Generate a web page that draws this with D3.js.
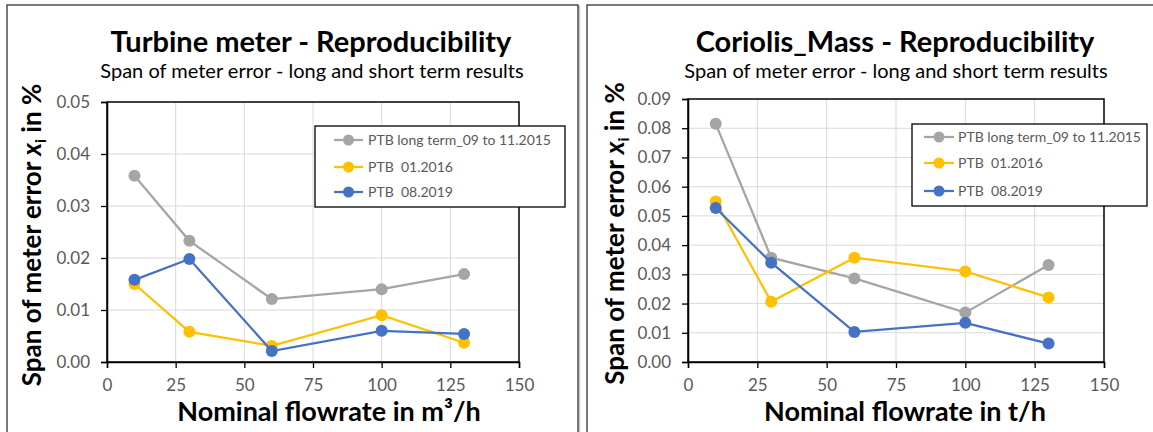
<!DOCTYPE html>
<html>
<head>
<meta charset="utf-8">
<script src="https://cdn.jsdelivr.net/npm/d3@7"></script>
<style>
  html, body { margin: 0; padding: 0; background: #fff; }
  svg { display: block; font-family: Lato, "Open Sans", sans-serif; }
</style>
</head>
<body>
<svg id="chart" width="1153" height="432"></svg>
<script>
// Nominal flowrates (shared x positions)
const flowrates = [10, 30, 60, 100, 130];

const seriesNames = ["PTB long term_09 to 11.2015", "PTB  01.2016", "PTB  08.2019"];
const seriesColors = ["#A5A5A5", "#FFC000", "#4472C4"];

// Turbine meter: span of meter error in %
const turbineLongTerm = [0.0358, 0.0233, 0.0121, 0.0140, 0.0169];
const turbine2016     = [0.0150, 0.0058, 0.0031, 0.0090, 0.0037];
const turbine2019     = [0.0158, 0.0198, 0.0021, 0.0060, 0.0054];

// Coriolis mass meter: span of meter error in %
const coriolisLongTerm = [0.0815, 0.0357, 0.0286, 0.0169, 0.0332];
const coriolis2016     = [0.0549, 0.0206, 0.0357, 0.0310, 0.0221];
const coriolis2019     = [0.0527, 0.0340, 0.0103, 0.0134, 0.0063];

const xTicks = [0, 25, 50, 75, 100, 125, 150];
const turbineYTicks = [0, 0.01, 0.02, 0.03, 0.04, 0.05];
const coriolisYTicks = [0, 0.01, 0.02, 0.03, 0.04, 0.05, 0.06, 0.07, 0.08, 0.09];

const panels = [
  {
    title: "Turbine meter - Reproducibility",
    subtitle: "Span of meter error - long and short term results",
    xTitle: "Nominal flowrate in m³/h",
    series: [turbineLongTerm, turbine2016, turbine2019],
    yMax: 0.05, yTicks: turbineYTicks,
    box: { x: 7, y: 5, w: 571, h: 460 },
    plot: { left: 107, right: 519, top: 102, bottom: 362 },
    legend: { x: 315, y: 126, w: 250, h: 81, lineX0: 19, lineX1: 48, textX: 53, rows: [14, 41, 66] },
    titleX: 311, xTitleX: 329, yTitleX: 41
  },
  {
    title: "Coriolis_Mass - Reproducibility",
    subtitle: "Span of meter error - long and short term results",
    xTitle: "Nominal flowrate in t/h",
    series: [coriolisLongTerm, coriolis2016, coriolis2019],
    yMax: 0.09, yTicks: coriolisYTicks,
    box: { x: 587, y: 5, w: 600, h: 460 },
    plot: { left: 688, right: 1104, top: 99, bottom: 362 },
    legend: { x: 912, y: 124, w: 235, h: 82, lineX0: 12, lineX1: 42, textX: 46, rows: [13, 39, 67] },
    titleX: 895, xTitleX: 905, yTitleX: 624
  }
];

const svg = d3.select("#chart");

panels.forEach(p => {
  const g = svg.append("g");

  // outer chart frame with a soft shadow edge
  g.append("rect")
    .attr("x", p.box.x + 1.5).attr("y", p.box.y + 1.5)
    .attr("width", p.box.w).attr("height", p.box.h)
    .attr("fill", "none").attr("stroke", "#c8c8c8").attr("stroke-width", 1.5);
  g.append("rect")
    .attr("x", p.box.x).attr("y", p.box.y)
    .attr("width", p.box.w).attr("height", p.box.h)
    .attr("fill", "#fff").attr("stroke", "#222").attr("stroke-width", 1.2);

  const x = d3.scaleLinear().domain([0, 150]).range([p.plot.left, p.plot.right]);
  const y = d3.scaleLinear().domain([0, p.yMax]).range([p.plot.bottom, p.plot.top]);

  // gridlines
  g.append("g").selectAll("line").data(xTicks.slice(1, -1)).join("line")
    .attr("x1", d => x(d)).attr("x2", d => x(d))
    .attr("y1", p.plot.top).attr("y2", p.plot.bottom)
    .attr("stroke", "#d9d9d9").attr("stroke-width", 1);
  g.append("g").selectAll("line").data(p.yTicks.slice(1, -1)).join("line")
    .attr("x1", p.plot.left).attr("x2", p.plot.right)
    .attr("y1", d => y(d)).attr("y2", d => y(d))
    .attr("stroke", "#d9d9d9").attr("stroke-width", 1);

  // plot area frame
  g.append("rect")
    .attr("x", p.plot.left).attr("y", p.plot.top)
    .attr("width", p.plot.right - p.plot.left).attr("height", p.plot.bottom - p.plot.top)
    .attr("fill", "none").attr("stroke", "#000").attr("stroke-width", 1.5);

  // axes
  const xAxis = d3.axisBottom(x).tickValues(xTicks).tickSize(6).tickPadding(11).tickFormat(d3.format("d"));
  const yAxis = d3.axisLeft(y).tickValues(p.yTicks).tickSize(6).tickPadding(11).tickFormat(d3.format(".2f"));

  const gx = g.append("g").attr("transform", `translate(0,${p.plot.bottom})`).call(xAxis);
  const gy = g.append("g").attr("transform", `translate(${p.plot.left},0)`).call(yAxis);
  [gx, gy].forEach(a => {
    a.select(".domain").attr("stroke", "#000").attr("stroke-width", 1.5);
    a.selectAll(".tick line").attr("stroke", "#000").attr("stroke-width", 1.3);
    a.selectAll(".tick text").attr("fill", "#595959").attr("font-size", 17)
      .attr("font-family", "Lato, 'Open Sans', sans-serif");
  });

  // series lines and markers
  p.series.forEach((vals, i) => {
    const pts = flowrates.map((f, k) => [f, vals[k]]);
    g.append("path")
      .attr("d", d3.line().x(d => x(d[0])).y(d => y(d[1]))(pts))
      .attr("fill", "none").attr("stroke", seriesColors[i]).attr("stroke-width", 2.25);
    g.append("g").selectAll("circle").data(pts).join("circle")
      .attr("cx", d => x(d[0])).attr("cy", d => y(d[1])).attr("r", 6)
      .attr("fill", seriesColors[i]);
  });

  // legend
  const L = p.legend;
  g.append("rect").attr("x", L.x).attr("y", L.y).attr("width", L.w).attr("height", L.h)
    .attr("fill", "#fff").attr("stroke", "#000").attr("stroke-width", 1.3);
  seriesNames.forEach((name, i) => {
    const cy = L.y + L.rows[i];
    g.append("line").attr("x1", L.x + L.lineX0).attr("x2", L.x + L.lineX1).attr("y1", cy).attr("y2", cy)
      .attr("stroke", seriesColors[i]).attr("stroke-width", 2.25);
    g.append("circle").attr("cx", L.x + (L.lineX0 + L.lineX1) / 2).attr("cy", cy).attr("r", 5.5)
      .attr("fill", seriesColors[i]);
    g.append("text").attr("x", L.x + L.textX).attr("y", cy).attr("dy", "0.35em")
      .style("white-space", "pre")
      .attr("font-size", 14).attr("fill", "#595959").text(name);
  });

  // titles
  g.append("text").attr("x", p.titleX).attr("y", 52).attr("text-anchor", "middle")
    .attr("font-size", 29).attr("font-weight", "bold").attr("fill", "#000").text(p.title);
  g.append("text").attr("x", p.titleX + 1).attr("y", 78).attr("text-anchor", "middle")
    .attr("font-size", 20).attr("fill", "#000").text(p.subtitle);

  // axis titles
  g.append("text").attr("x", p.xTitleX).attr("y", 421)
    .attr("text-anchor", "middle").attr("font-size", 27).attr("font-weight", "bold")
    .attr("fill", "#000").text(p.xTitle);

  const yt = g.append("text")
    .attr("transform", `translate(${p.yTitleX},${(p.plot.top + p.plot.bottom) / 2 + 3}) rotate(-90)`)
    .attr("text-anchor", "middle").attr("font-size", 26).attr("font-weight", "bold").attr("fill", "#000");
  yt.append("tspan").text("Span of meter error ");
  yt.append("tspan").attr("font-style", "italic").text("x");
  yt.append("tspan").attr("font-size", 16).attr("dy", 5).text("i");
  yt.append("tspan").attr("dy", -5).text(" in %");
});
</script>
</body>
</html>
